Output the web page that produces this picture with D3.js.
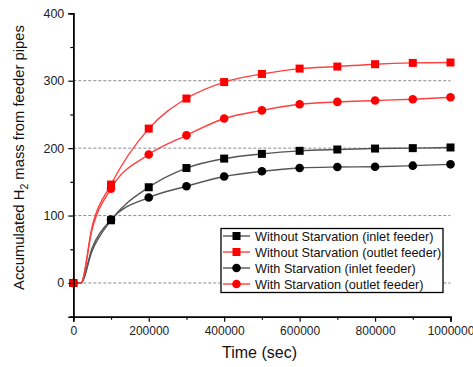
<!DOCTYPE html>
<html>
<head>
<meta charset="utf-8">
<script src="https://cdn.jsdelivr.net/npm/d3@7"></script>
<style>
  body { margin: 0; background: #fff; }
  svg { display: block; font-family: Arial, "Liberation Sans", sans-serif; }
</style>
</head>
<body>
<div id="chart"></div>
<script>
// time points (sec) at which the markers sit; the line also passes the early points
const markerTimes = [0, 100000, 200000, 300000, 400000, 500000, 600000, 700000, 800000, 900000, 1000000];
const lineTimes = [0, 20000, 50000, 100000, 200000, 300000, 400000, 500000, 600000, 700000, 800000, 900000, 1000000];

// accumulated H2 mass per series (along lineTimes)
const noStarvInlet = [0, 0, 48, 93, 142, 170.5, 184.5, 191.5, 196, 198, 199.4, 200, 201];
const noStarvOutlet = [0, 0, 84, 146, 229, 273.6, 298, 310, 318, 321, 324.5, 326.4, 327];
const starvInlet = [0, 0, 52, 94, 126.7, 143.5, 158, 165.7, 170.6, 172, 172.5, 174, 176];
const starvOutlet = [0, 0, 80, 140, 190.5, 219, 244, 256, 265, 268.6, 270.6, 272.6, 275.5];

const seriesNames = [
    'Without Starvation (inlet feeder)',
    'Without Starvation (outlet feeder)',
    'With Starvation (inlet feeder)',
    'With Starvation (outlet feeder)'
];

const xTicks = [0, 200000, 400000, 600000, 800000, 1000000];
const yTicks = [0, 100, 200, 300, 400];
const gridValues = [0, 100, 200, 300];

const series = [
    {name: seriesNames[0], values: noStarvInlet, line: '#555', fill: '#000', shape: 'square'},
    {name: seriesNames[1], values: noStarvOutlet, line: '#ff4040', fill: '#ff0000', shape: 'square'},
    {name: seriesNames[2], values: starvInlet, line: '#555', fill: '#000', shape: 'circle'},
    {name: seriesNames[3], values: starvOutlet, line: '#ff4040', fill: '#ff0000', shape: 'circle'}
];

const width = 473;
const height = 367;

const svg = d3.select('#chart').append('svg')
.attr('width', width)
.attr('height', height);

const x = d3.scaleLinear().domain([0, 1000000]).range([73.3, 450.5]);
const y = d3.scaleLinear().domain([-50, 400]).range([316.7, 13.3]);

// dashed grid
svg.append('g')
.selectAll('line')
.data(gridValues)
.enter()
.append('line')
.attr('x1', x(0))
.attr('x2', x(1000000))
.attr('y1', (d) => y(d))
.attr('y2', (d) => y(d))
.attr('stroke', '#8a8a8a')
.attr('stroke-width', 1)
.attr('stroke-dasharray', '3,2');

// series lines
const line = d3.line()
.x((d) => x(d[0]))
.y((d) => y(d[1]))
.curve(d3.curveMonotoneX);

for (const s of series) {
    const pts = lineTimes.map((t, i) => [t, s.values[i]]);
    svg.append('path')
    .datum(pts)
    .attr('fill', 'none')
    .attr('stroke', s.line)
    .attr('stroke-width', 1.4)
    .attr('d', line);
}

const drawMarker = (g, shape, fill, cx, cy) => {
    if (shape === 'square') {
        g.append('rect')
        .attr('x', cx - 4)
        .attr('y', cy - 4)
        .attr('width', 8)
        .attr('height', 8)
        .attr('fill', fill);
    } else {
        g.append('circle')
        .attr('cx', cx)
        .attr('cy', cy)
        .attr('r', 4.3)
        .attr('fill', fill);
    }
};

// markers
for (const s of series) {
    const g = svg.append('g');
    for (const t of markerTimes) {
        const i = lineTimes.indexOf(t);
        drawMarker(g, s.shape, s.fill, x(t), y(s.values[i]));
    }
}

// axes
const yAxis = d3.axisLeft(y).tickValues(yTicks).tickSize(5).tickPadding(4).tickFormat(d3.format('d'));
const yMinor = d3.axisLeft(y).tickValues([-50, 50, 150, 250, 350]).tickSize(3).tickFormat('');
const xAxis = d3.axisBottom(x).tickValues(xTicks).tickSize(5).tickPadding(5).tickFormat(d3.format('d'));
const xMinor = d3.axisBottom(x).tickValues([100000, 300000, 500000, 700000, 900000]).tickSize(3).tickFormat('');

const styleAxis = (g, size) => {
    g.select('.domain').attr('stroke', '#000').attr('stroke-width', 1.5);
    g.selectAll('.tick line').attr('stroke', '#000').attr('stroke-width', 1.2);
    g.selectAll('.tick text').attr('fill', '#222').style('font-size', size);
};

svg.append('g').attr('transform', `translate(${x(0)},0)`).call(yMinor).call(styleAxis, '12.5px');
svg.append('g').attr('transform', `translate(${x(0)},0)`).call(yAxis).call(styleAxis, '12.5px');
svg.append('g').attr('transform', `translate(0,${y(-50)})`).call(xMinor).call(styleAxis, '12px');
svg.append('g').attr('transform', `translate(0,${y(-50)})`).call(xAxis).call(styleAxis, '12px');

// axis titles
svg.append('text')
.attr('x', 259.5)
.attr('y', 358)
.attr('text-anchor', 'middle')
.style('font-size', '16px')
.attr('fill', '#111')
.text('Time (sec)');

const yTitle = svg.append('text')
.attr('transform', 'translate(23.5,157.5) rotate(-90)')
.attr('text-anchor', 'middle')
.style('font-size', '14.8px')
.attr('fill', '#111');
yTitle.append('tspan').text('Accumulated H');
yTitle.append('tspan').attr('dy', 4).style('font-size', '10.5px').text('2');
yTitle.append('tspan').attr('dy', -4).text(' mass from feeder pipes');

// legend
const legend = svg.append('g').attr('transform', 'translate(221,228.5)');
legend.append('rect')
.attr('width', 222)
.attr('height', 64)
.attr('fill', '#fff')
.attr('stroke', '#000')
.attr('stroke-width', 1.3);

series.forEach((s, i) => {
    const ly = 7.5 + i * 16;
    legend.append('line')
    .attr('x1', 2)
    .attr('x2', 29)
    .attr('y1', ly)
    .attr('y2', ly)
    .attr('stroke', s.line)
    .attr('stroke-width', 1.4);
    drawMarker(legend, s.shape, s.fill, 15.5, ly);
    legend.append('text')
    .attr('x', 34)
    .attr('y', ly + 4.5)
    .style('font-size', '12.7px')
    .attr('fill', '#111')
    .text(s.name);
});
</script>
</body>
</html>
